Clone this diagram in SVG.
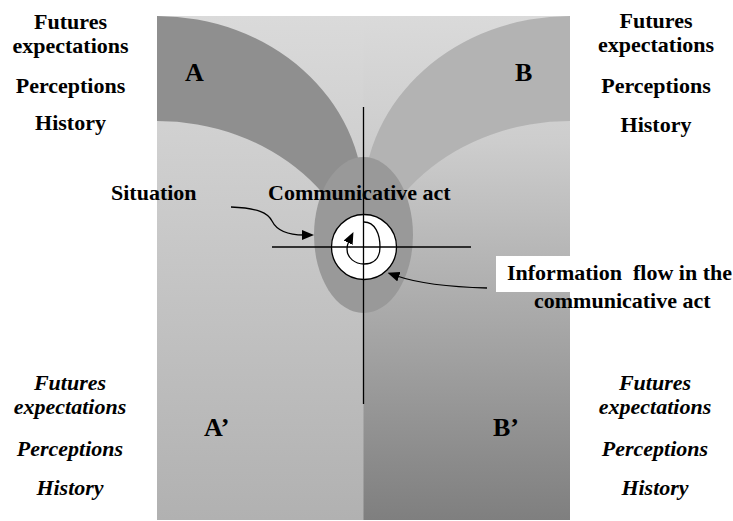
<svg xmlns="http://www.w3.org/2000/svg" width="733" height="521" viewBox="0 0 733 521">
  <defs>
    <linearGradient id="bgLeft" x1="0" y1="0" x2="0" y2="1">
      <stop offset="0" stop-color="#dadada"/>
      <stop offset="1" stop-color="#b1b1b1"/>
    </linearGradient>
    <linearGradient id="bgRight" x1="0" y1="0" x2="0" y2="1">
      <stop offset="0" stop-color="#dadada"/>
      <stop offset="0.25" stop-color="#cdcdcd"/>
      <stop offset="1" stop-color="#7f7f7f"/>
    </linearGradient>
    <marker id="arrow" viewBox="0 0 12 10" refX="2" refY="5" markerWidth="12" markerHeight="10" markerUnits="userSpaceOnUse" orient="auto">
      <path d="M0,0 L12,5 L0,10 z" fill="#000"/>
    </marker>
    <style>
      text { font-weight: bold; font-size: 22px; fill: #000; }
      .it { font-style: italic; }
      .mid { text-anchor: middle; }
      .big { font-size: 26px; }
      .wire { fill: none; stroke: #000; stroke-width: 1.3; }
    </style>
  </defs>

  <!-- field: left half (A side) and right half (B side) -->
  <g id="field">
    <rect x="157" y="16" width="413" height="504" fill="url(#bgLeft)"/>
    <rect x="363.5" y="16" width="206.5" height="504" fill="url(#bgRight)"/>
  </g>

  <g font-family="'Liberation Serif', 'Times New Roman', 'DejaVu Serif', serif">
  <!-- party A band -->
  <g id="party-a">
    <path d="M157,16 A206.5,184 0 0 1 363.5,200 L363.5,300 A206.5,179 0 0 0 157,121 Z" fill="#8f8f8f"/>
    <text class="big" x="185" y="81">A</text>
    <text class="big" x="204" y="436">A’</text>
  </g>

  <!-- party B band -->
  <g id="party-b">
    <path d="M570,16 A206.5,184 0 0 0 363.5,200 L363.5,300 A206.5,179 0 0 1 570,121 Z" fill="#b3b3b3"/>
    <text class="big" x="515" y="81">B</text>
    <text class="big" x="493" y="436">B’</text>
  </g>

  <!-- situation: shared area -->
  <g id="situation">
    <ellipse cx="363.5" cy="235" rx="49.5" ry="78" fill="#999999"/>
    <text x="111" y="200">Situation</text>
  </g>

  <!-- communicative act -->
  <g id="communicative-act">
    <circle cx="364" cy="247" r="32.5" fill="#fff" stroke="#000" stroke-width="1.3"/>
    <text x="268" y="200">Communicative act</text>
  </g>

  <!-- information flow label -->
  <g id="information-flow">
    <rect x="496" y="256" width="237" height="36" fill="#fff"/>
    <text x="507" y="280">Information</text>
    <text x="633" y="280">flow in the</text>
    <text x="534" y="308">communicative act</text>
  </g>

  <!-- side labels -->
  <g id="labels-a">
    <text class="mid" x="70.5" y="29">Futures</text>
    <text class="mid" x="70.5" y="53">expectations</text>
    <text class="mid" x="70.5" y="93">Perceptions</text>
    <text class="mid" x="70.5" y="130">History</text>
  </g>
  <g id="labels-b">
    <text class="mid" x="656" y="28">Futures</text>
    <text class="mid" x="656" y="52">expectations</text>
    <text class="mid" x="656" y="93">Perceptions</text>
    <text class="mid" x="656" y="132">History</text>
  </g>
  <g id="labels-a-prime">
    <text class="mid it" x="70" y="390">Futures</text>
    <text class="mid it" x="70" y="414">expectations</text>
    <text class="mid it" x="70" y="456">Perceptions</text>
    <text class="mid it" x="70" y="495">History</text>
  </g>
  <g id="labels-b-prime">
    <text class="mid it" x="655" y="390">Futures</text>
    <text class="mid it" x="655" y="414">expectations</text>
    <text class="mid it" x="655" y="456">Perceptions</text>
    <text class="mid it" x="655" y="495">History</text>
  </g>
  </g>

  <!-- connectors: axes, loop and pointers -->
  <g id="connectors">
    <line class="wire" x1="363.5" y1="107" x2="363.5" y2="404"/>
    <line class="wire" x1="272" y1="247" x2="471" y2="247"/>
    <path class="wire" d="M364,222 C375,222 380,234 380,247 C380,259 373,264 364,264 C355,264 347,258 347,249 C347,246 348,243 349,241" marker-end="url(#arrow)"/>
    <path class="wire" d="M231,207 C258,208 268,213 272,221 C277,231 290,235 304,235" marker-end="url(#arrow)"/>
    <path class="wire" d="M487,288 C450,287 420,284 397,276" marker-end="url(#arrow)"/>
  </g>
</svg>
